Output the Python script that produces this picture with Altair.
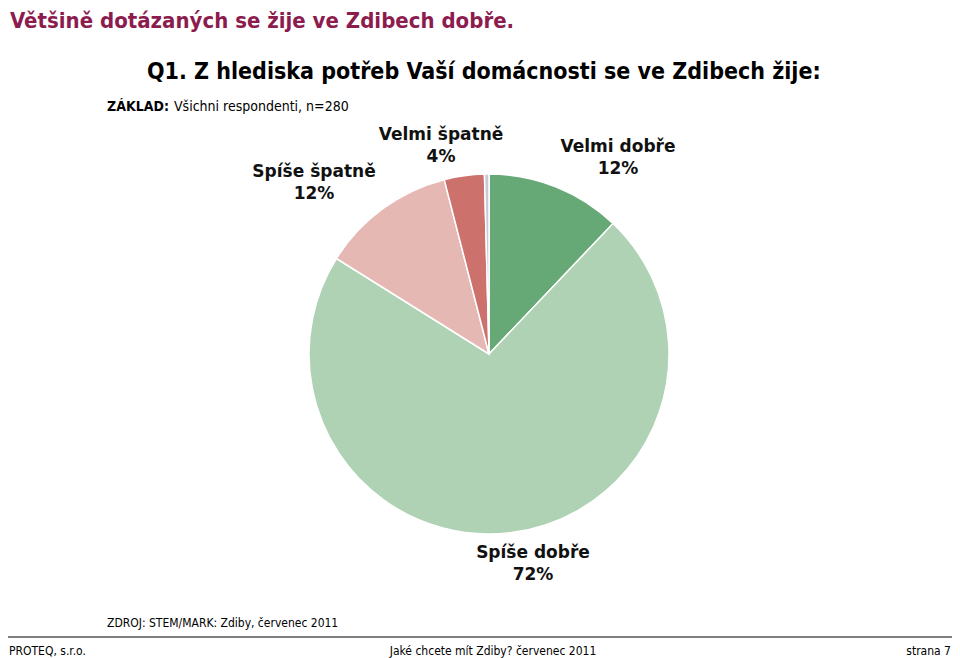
import altair as alt
import pandas as pd

# ---- data ----
categories = ["Velmi dobře", "Spíše dobře", "Spíše špatně", "Velmi špatně", "Neví"]
values = [12.1, 71.8, 12.1, 3.6, 0.4]
colors = ["#67A877", "#AED2B3", "#E6B8B3", "#CD716D", "#C9C7D9"]

title_text = "Většině dotázaných se žije ve Zdibech dobře."
question_text = "Q1. Z hlediska potřeb Vaší domácnosti se ve Zdibech žije:"
base_bold = "ZÁKLAD:"
base_text = "Všichni respondenti, n=280"
source_text = "ZDROJ: STEM/MARK: Zdiby, červenec 2011"
footer_left = "PROTEQ, s.r.o."
footer_mid = "Jaké chcete mít Zdiby? červenec 2011"
footer_right = "strana 7"

df = pd.DataFrame({"cat": categories, "value": values, "order": list(range(len(categories)))})

W, H = 944, 650
OFF = 8  # page margin
CX, CY = 489 - OFF, 354 - OFF
R = 180

BOLD_FONT = "DejaVu Sans"
NARROW_FONT = "DejaVu Sans Condensed, DejaVu Sans"

pie = alt.Chart(df).mark_arc(outerRadius=R, stroke="white", strokeWidth=1.5).encode(
    theta=alt.Theta("value:Q", stack=True),
    order=alt.Order("order:Q"),
    color=alt.Color("cat:N", scale=alt.Scale(domain=categories, range=colors), legend=None),
    x=alt.value(CX),
    y=alt.value(CY),
)

# first-line centre of each two-line label (page pixels)
label_xy = {
    "Velmi dobře": (618, 147),
    "Spíše dobře": (533, 553),
    "Spíše špatně": (314, 172),
    "Velmi špatně": (441, 135),
}

labels = []
for cat, (lx, ly) in label_xy.items():
    labels.append(
        alt.Chart(df)
        .transform_filter(alt.datum.cat == cat)
        .transform_calculate(lab="datum.cat + '\\n' + round(datum.value) + '%'")
        .mark_text(
            align="center", baseline="middle", lineBreak="\n", lineHeight=22,
            font=BOLD_FONT, fontWeight="bold", fontSize=17, color="#111111",
        )
        .encode(x=alt.value(lx - OFF), y=alt.value(ly - OFF), text="lab:N")
    )


def txt(t, x, y, size, weight="normal", color="#000000", align="left", font=BOLD_FONT):
    return alt.Chart(pd.DataFrame({"t": [t]})).mark_text(
        align=align, baseline="alphabetic", font=font, fontSize=size,
        fontWeight=weight, color=color,
    ).encode(x=alt.value(x - OFF), y=alt.value(y - OFF), text="t:N")


texts = [
    txt(title_text, 10, 28, 22, "bold", "#8C1B4E", font=NARROW_FONT),
    txt(question_text, 147, 79, 23, "bold", "#000000", font=NARROW_FONT),
    txt(base_bold, 107, 111, 14, "bold", "#000000", font=NARROW_FONT),
    txt(base_text, 174, 111, 14, "normal", "#000000", font=NARROW_FONT),
    txt(source_text, 107, 627, 12, "normal", "#000000", font=NARROW_FONT),
    txt(footer_left, 9, 655, 12, "normal", "#000000", font=NARROW_FONT),
    txt(footer_mid, 493, 655, 12, "normal", "#000000", align="center", font=NARROW_FONT),
    txt(footer_right, 951, 655, 12, "normal", "#000000", align="right", font=NARROW_FONT),
]

rule = alt.Chart(pd.DataFrame({"a": [0]})).mark_rule(color="#7F7F7F", strokeWidth=2).encode(
    x=alt.value(0), x2=alt.value(W), y=alt.value(637 - OFF)
)

chart = alt.layer(pie, *labels, *texts, rule).properties(
    width=W, height=H, padding=0, autosize=alt.AutoSizeParams(type="none"), background="white"
).configure_view(stroke=None)

chart.save("out.html", embed_options={"renderer": "svg", "actions": False})
